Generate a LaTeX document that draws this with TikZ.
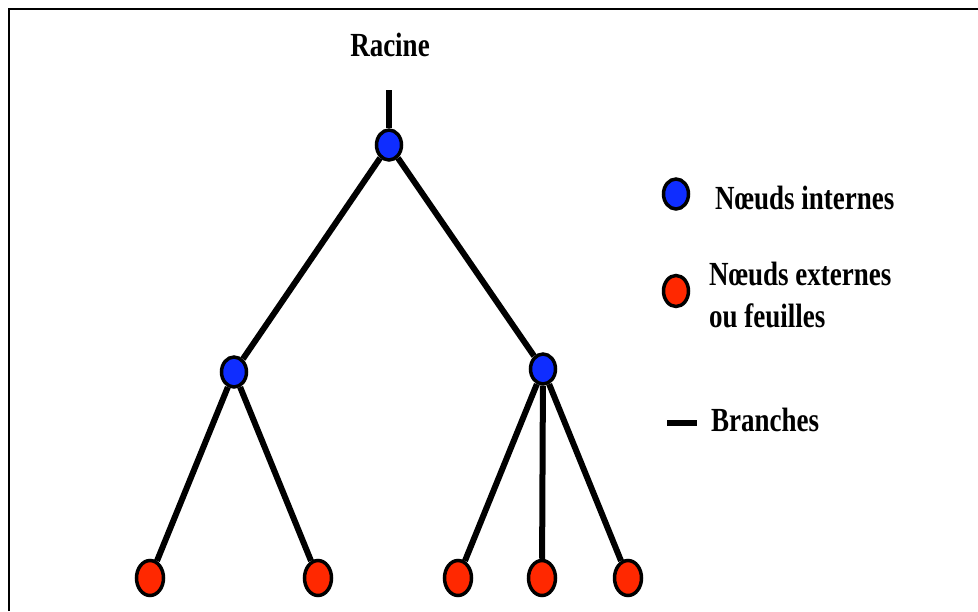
\documentclass[tikz,border=0pt]{standalone}
\usepackage{fontspec}
\setmainfont{Liberation Serif}
\usetikzlibrary{shapes.geometric}
\definecolor{nodeblue}{RGB}{15,45,255}
\definecolor{nodered}{RGB}{255,40,0}
\begin{document}
\begin{tikzpicture}[x=1pt,y=-1pt,
  inner/.style={ellipse,draw=black,line width=3.5pt,fill=nodeblue,minimum width=25pt,minimum height=30pt,inner sep=0pt},
  leaf/.style={ellipse,draw=black,line width=3.5pt,fill=nodered,minimum width=27pt,minimum height=35pt,inner sep=0pt},
  branch/.style={line width=6pt},
  lbl/.style={font=\fontsize{27}{30}\selectfont\bfseries,inner sep=0pt,align=left}]
\useasboundingbox (0,0) rectangle (978,611);
% frame
\draw[line width=2pt] (8.5,611) -- (8.5,9) -- (978,9);
\coordinate (top) at (389,90);
\node[inner] (r) at (389,145) {};
\node[inner] (a) at (234,372) {};
\node[inner] (b) at (543,369) {};
\node[leaf] (l1) at (150,578) {};
\node[leaf] (l2) at (318,578) {};
\node[leaf] (l3) at (458,578) {};
\node[leaf] (l4) at (542,578) {};
\node[leaf] (l5) at (628,578) {};
\draw[branch] (top) -- (r);
\draw[branch] (r) -- (a);
\draw[branch] (r) -- (b);
\draw[branch] (a) -- (l1);
\draw[branch] (a) -- (l2);
\draw[branch] (b) -- (l3);
\draw[branch] (b) -- (l4);
\draw[branch] (b) -- (l5);
% labels
\node[lbl] (racine) at (390,45) {\scalebox{1}[1.25]{Racine}};
% legend
\node[inner] (lgi) at (676,194) {};
\node[lbl,anchor=west] (ti) at (715,198) {\scalebox{1}[1.25]{Nœuds internes}};
\node[leaf,minimum width=25pt,minimum height=31pt] (lge) at (676,291) {};
\node[lbl,anchor=west] (te1) at (709,274) {\scalebox{1}[1.25]{Nœuds externes}};
\node[lbl,anchor=west] (te2) at (709,316) {\scalebox{1}[1.25]{ou feuilles}};
\coordinate (bs) at (667,423);
\coordinate (be) at (697,423);
\draw[branch] (bs) -- (be);
\node[lbl,anchor=west] (tb) at (711,420) {\scalebox{1}[1.25]{Branches}};
\end{tikzpicture}
\end{document}
